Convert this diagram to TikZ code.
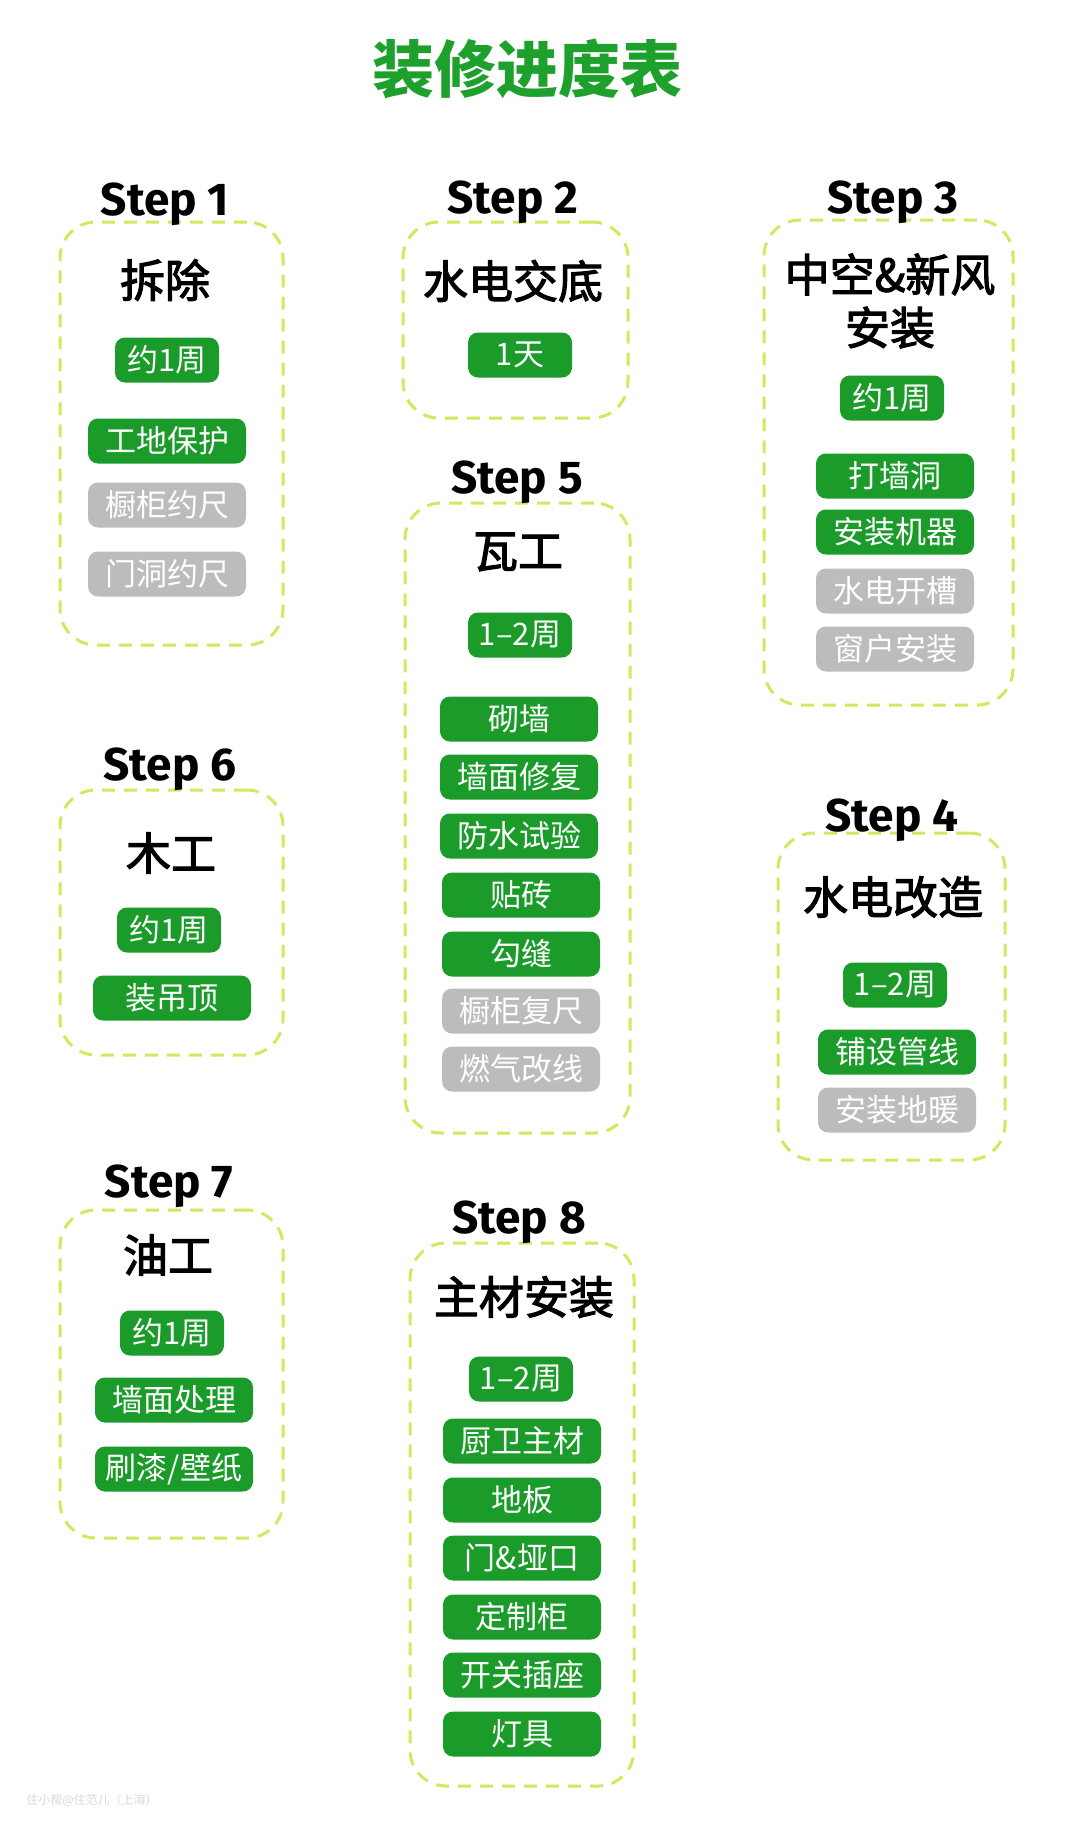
\documentclass[tikz,border=0pt]{standalone}
\usepackage{fontspec}
\newfontfamily\cjk{Noto Sans CJK SC}
\newfontfamily\cjkhead[FakeBold=2.5]{Noto Sans CJK SC}
\newfontfamily\stepfont{Fira Sans}
\definecolor{titlegreen}{RGB}{30, 160, 45}
\definecolor{pillgreen}{RGB}{26, 155, 42}
\definecolor{pillgray}{RGB}{188, 188, 188}
\definecolor{dashyellow}{RGB}{216, 230, 95}

\begin{document}
\begin{tikzpicture}[
        x=1pt, y=-1pt,
        frame/.style={draw=dashyellow, line width=3pt, dash pattern=on 13pt off 9pt, rounded corners=36pt, inner sep=0pt},
        steplabel/.style={anchor=base, font=\stepfont\bfseries\fontsize{46}{46}\selectfont},
        head/.style={font=\cjkhead\fontsize{45}{53}\selectfont, align=center},
        pill/.style={rounded corners=10pt, minimum height=45pt, inner sep=0pt, text=white, font=\cjk\fontsize{31}{31}\selectfont},
        dur/.style={pill, fill=pillgreen, minimum width=104pt},
        done/.style={pill, fill=pillgreen, minimum width=158pt},
        todo/.style={pill, fill=pillgray, minimum width=158pt}
    ]
        \fill[white] (0,0) rectangle (1080,1840);
        \useasboundingbox (0,0) rectangle (1080,1840);

        % Title
        \node[font=\cjk\bfseries\fontsize{62}{62}\selectfont, text=titlegreen] (title) at (527, 69) {装修进度表};

        % Step 1
        \node[frame, minimum width=223pt, minimum height=423pt] (s1) at (171.5, 433.5) {};
        \node[steplabel] (l1) at (165, 215) {Step 1};
        \node[head] (h1) at (165, 280) {拆除};
        \node[dur] (d1) at (167, 360) {约1周};
        \node[done] (t1a) at (167, 441) {工地保护};
        \node[todo] (t1b) at (167, 505) {橱柜约尺};
        \node[todo] (t1c) at (167, 574) {门洞约尺};

        % Step 2
        \node[frame, minimum width=225pt, minimum height=196pt] (s2) at (515.5, 320) {};
        \node[steplabel] (l2) at (513, 213) {Step 2};
        \node[head] (h2) at (513, 281) {水电交底};
        \node[dur] (d2) at (520, 355) {1天};

        % Step 3
        \node[frame, minimum width=249pt, minimum height=485pt] (s3) at (888.5, 462.5) {};
        \node[steplabel] (l3) at (893, 213) {Step 3};
        \node[head] (h3) at (890, 301) {中空\&新风\\安装};
        \node[dur] (d3) at (892, 398) {约1周};
        \node[done] (t3a) at (895, 476) {打墙洞};
        \node[done] (t3b) at (895, 532) {安装机器};
        \node[todo] (t3c) at (895, 591) {水电开槽};
        \node[todo] (t3d) at (895, 649) {窗户安装};

        % Step 4
        \node[frame, minimum width=227pt, minimum height=327pt] (s4) at (891.5, 996.5) {};
        \node[steplabel] (l4) at (892, 831) {Step 4};
        \node[head] (h4) at (893, 897) {水电改造};
        \node[dur] (d4) at (895, 985) {1–2周};
        \node[done] (t4a) at (897, 1052) {铺设管线};
        \node[todo] (t4b) at (897, 1110) {安装地暖};

        % Step 5
        \node[frame, minimum width=225pt, minimum height=630pt] (s5) at (517.5, 818) {};
        \node[steplabel] (l5) at (517, 493) {Step 5};
        \node[head] (h5) at (518, 552) {瓦工};
        \node[dur] (d5) at (520, 635) {1–2周};
        \node[done] (t5a) at (519, 719) {砌墙};
        \node[done] (t5b) at (519, 777) {墙面修复};
        \node[done] (t5c) at (519, 836) {防水试验};
        \node[done] (t5d) at (521, 895) {贴砖};
        \node[done] (t5e) at (521, 954) {勾缝};
        \node[todo] (t5f) at (521, 1011) {橱柜复尺};
        \node[todo] (t5g) at (521, 1069) {燃气改线};

        % Step 6
        \node[frame, minimum width=223pt, minimum height=265pt] (s6) at (171.5, 922.5) {};
        \node[steplabel] (l6) at (170, 780) {Step 6};
        \node[head] (h6) at (171, 853) {木工};
        \node[dur] (d6) at (169, 930) {约1周};
        \node[done] (t6a) at (172, 998) {装吊顶};

        % Step 7
        \node[frame, minimum width=223pt, minimum height=328pt] (s7) at (171.5, 1374) {};
        \node[steplabel] (l7) at (169, 1197) {Step 7};
        \node[head] (h7) at (168, 1255) {油工};
        \node[dur] (d7) at (172, 1333) {约1周};
        \node[done] (t7a) at (174, 1400) {墙面处理};
        \node[done] (t7b) at (174, 1469) {刷漆/壁纸};

        % Step 8
        \node[frame, minimum width=224pt, minimum height=543pt] (s8) at (522, 1514.5) {};
        \node[steplabel] (l8) at (519, 1233) {Step 8};
        \node[head] (h8) at (524, 1297) {主材安装};
        \node[dur] (d8) at (521, 1379) {1–2周};
        \node[done] (t8a) at (522, 1441) {厨卫主材};
        \node[done] (t8b) at (522, 1500) {地板};
        \node[done] (t8c) at (522, 1558) {门\&垭口};
        \node[done] (t8d) at (522, 1617) {定制柜};
        \node[done] (t8e) at (522, 1675) {开关插座};
        \node[done] (t8f) at (522, 1734) {灯具};

        % Watermark
        \node[font=\cjk\fontsize{12}{12}\selectfont, text=black!15] (mark) at (92, 1800) {住小帮@住范儿（上海）};
    \end{tikzpicture}
\end{document}
